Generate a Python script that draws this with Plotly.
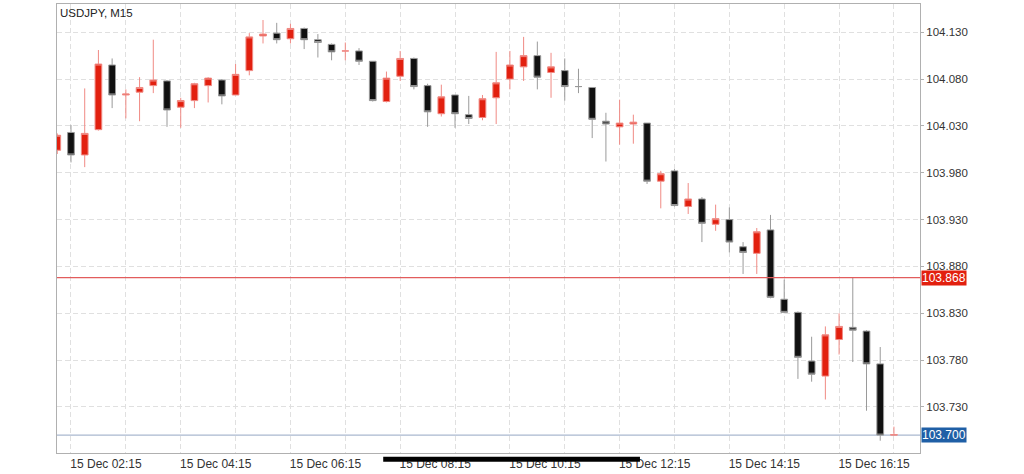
import plotly.graph_objects as go
import pandas as pd

symbol_title = "USDJPY, M15"
start_time = "2020-12-15 02:00"

opens = [104.004, 104.023, 103.999, 104.026, 104.095, 104.063, 104.066, 104.073, 104.078, 104.050,
         104.057, 104.073, 104.079, 104.063, 104.089, 104.126, 104.129, 104.123, 104.134, 104.122,
         104.117, 104.110, 104.110, 104.099, 104.056, 104.083, 104.102, 104.073, 104.043, 104.063,
         104.042, 104.039, 104.060, 104.080, 104.093, 104.105, 104.087, 104.089, 104.072, 104.071,
         104.035, 104.029, 104.032, 104.033, 103.971, 103.982, 103.944, 103.952, 103.925, 103.930,
         103.901, 103.894, 103.919, 103.845, 103.831, 103.779, 103.763, 103.802, 103.815, 103.811,
         103.776, 103.700]
highs = [104.022, 104.031, 104.070, 104.111, 104.102, 104.069, 104.082, 104.122, 104.079, 104.060,
         104.076, 104.082, 104.080, 104.096, 104.129, 104.143, 104.140, 104.139, 104.135, 104.128,
         104.118, 104.119, 104.113, 104.099, 104.088, 104.110, 104.103, 104.075, 104.074, 104.063,
         104.062, 104.063, 104.109, 104.110, 104.125, 104.120, 104.108, 104.102, 104.091, 104.071,
         104.044, 104.058, 104.042, 104.033, 103.982, 103.984, 103.969, 103.954, 103.946, 103.943,
         103.906, 103.921, 103.935, 103.866, 103.832, 103.805, 103.816, 103.830, 103.868, 103.812,
         103.794, 103.709]
lows = [104.000, 103.991, 103.986, 104.025, 104.049, 104.038, 104.035, 104.065, 104.029, 104.028,
        104.049, 104.055, 104.053, 104.063, 104.084, 104.118, 104.118, 104.118, 104.112, 104.103,
        104.100, 104.100, 104.095, 104.056, 104.055, 104.078, 104.069, 104.029, 104.040, 104.028,
        104.032, 104.036, 104.032, 104.069, 104.078, 104.069, 104.060, 104.057, 104.065, 104.017,
        103.992, 104.010, 104.011, 103.968, 103.942, 103.944, 103.936, 103.906, 103.918, 103.895,
        103.872, 103.872, 103.846, 103.830, 103.760, 103.757, 103.738, 103.786, 103.778, 103.726,
        103.694, 103.700]
closes = [104.020, 103.999, 104.022, 104.096, 104.063, 104.064, 104.071, 104.079, 104.047, 104.057,
          104.075, 104.081, 104.062, 104.085, 104.125, 104.128, 104.122, 104.134, 104.122, 104.119,
          104.109, 104.110, 104.099, 104.057, 104.081, 104.102, 104.072, 104.045, 104.061, 104.043,
          104.038, 104.059, 104.076, 104.095, 104.105, 104.082, 104.093, 104.072, 104.072, 104.037,
          104.032, 104.033, 104.034, 103.971, 103.979, 103.945, 103.952, 103.926, 103.931, 103.906,
          103.895, 103.917, 103.847, 103.831, 103.783, 103.765, 103.807, 103.816, 103.812, 103.776,
          103.700, 103.7004]

y_ticks = [103.730, 103.780, 103.830, 103.880, 103.930, 103.980, 104.030, 104.080, 104.130]
ask_price = 103.868
bid_price = 103.700

times = pd.date_range(start_time, periods=len(opens), freq="15min")

fig = go.Figure()
fig.add_trace(go.Candlestick(
    x=times, open=opens, high=highs, low=lows, close=closes,
    increasing=dict(fillcolor="#e2200f", line=dict(color="#f08a84", width=1)),
    decreasing=dict(fillcolor="#111111", line=dict(color="#9a9a9a", width=1)),
    whiskerwidth=0,
    showlegend=False,
))

grid_color = "#e0e0e0"
fig.update_layout(
    width=1024, height=474,
    margin=dict(l=57, r=104, t=3, b=19),
    paper_bgcolor="white", plot_bgcolor="white",
    font=dict(family="Liberation Sans, Arial, sans-serif", color="#333333"),
    showlegend=False,
)
fig.update_xaxes(
    type="date",
    range=["2020-12-15 01:59:42", "2020-12-15 17:43:30"],
    rangeslider_visible=False,
    tick0="2020-12-15 02:15", dtick=2 * 3600 * 1000,
    tickformat="%d %b %H:%M",
    tickfont=dict(size=12, color="#333333"),
    ticklabelshift=35,
    ticks="",
    showgrid=True, gridcolor=grid_color, griddash="5px,3px", gridwidth=1,
    minor=dict(dtick=3600 * 1000, tick0="2020-12-15 02:15", showgrid=True,
               gridcolor=grid_color, griddash="5px,3px", gridwidth=1),
    showline=True, linecolor="#b0b0b0", linewidth=1, mirror=True,
    zeroline=False,
)
fig.update_yaxes(
    side="right",
    range=[103.6809, 104.1601],
    tickvals=y_ticks,
    ticktext=[f"{v:.3f}" for v in y_ticks],
    tickfont=dict(size=11.5, color="#333333"),
    ticks="outside", ticklen=3, tickcolor="#b0b0b0",
    showgrid=True, gridcolor=grid_color, griddash="5px,3px", gridwidth=1,
    showline=True, linecolor="#b0b0b0", linewidth=1, mirror=True,
    zeroline=False,
)

# price lines
fig.add_shape(type="line", xref="paper", x0=0, x1=1, yref="y", y0=ask_price, y1=ask_price,
              line=dict(color="#e25c5c", width=1.2), layer="above")
fig.add_shape(type="line", xref="paper", x0=0, x1=1, yref="y", y0=bid_price, y1=bid_price,
              line=dict(color="#aab8cf", width=1.3), layer="below")
fig.add_annotation(xref="paper", x=1, xanchor="left", xshift=1, yref="y", y=ask_price,
                   text=f"{ask_price:.3f}", showarrow=False, bgcolor="#e2200f",
                   font=dict(size=12, color="white"), borderpad=0)
fig.add_annotation(xref="paper", x=1, xanchor="left", xshift=1, yref="y", y=bid_price,
                   text=f"{bid_price:.3f}", showarrow=False, bgcolor="#1f5fa6",
                   font=dict(size=12, color="white"), borderpad=0)

# title
fig.add_annotation(xref="paper", x=0, xanchor="left", xshift=1, yref="paper", y=1, yanchor="top",
                   yshift=-1, text=symbol_title, showarrow=False,
                   font=dict(size=11.5, color="#222222"))

# scroll indicator bar overlay
fig.add_shape(type="line", xref="paper", yref="paper", x0=0.378, x1=0.6755,
              y0=-0.0137, y1=-0.0137, line=dict(color="#000000", width=5), layer="above")

fig.write_html("out.html", config={"displayModeBar": False},
               post_script="document.body.style.margin='0px';")
